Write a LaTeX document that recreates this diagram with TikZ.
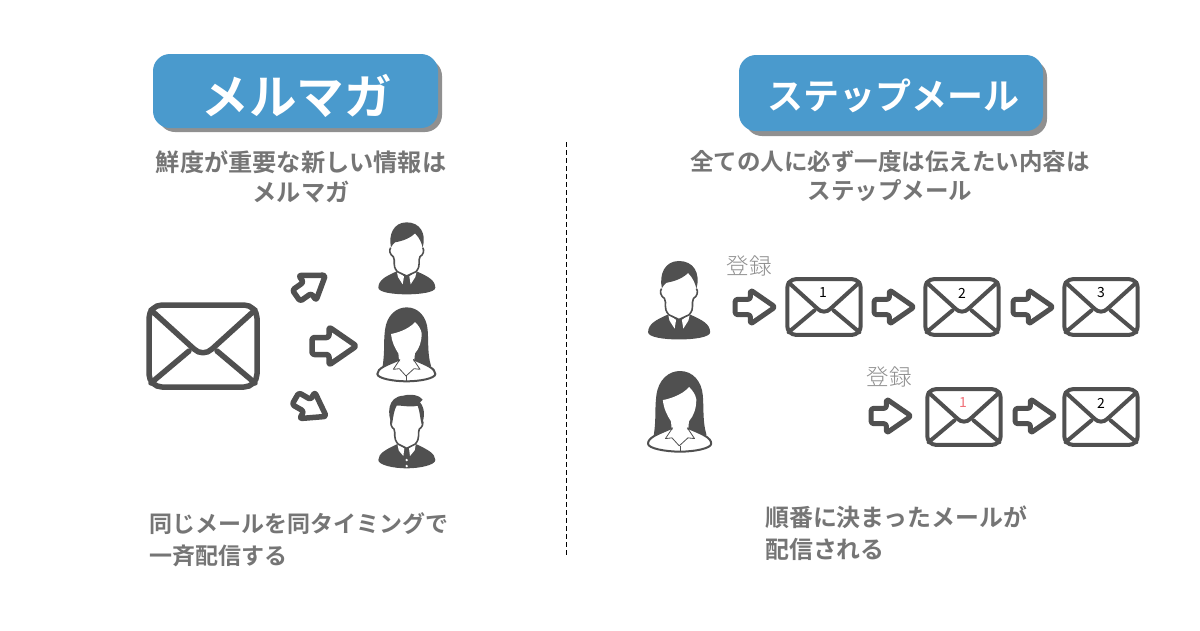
\documentclass[tikz,border=0pt]{standalone}
\usepackage{fontspec}
\newfontfamily\jp{Noto Sans CJK JP}[BoldFont={Noto Sans CJK JP Bold}]
\newfontfamily\jplight{Noto Sans CJK JP Light}
\setmainfont{Liberation Sans}
\definecolor{ic}{HTML}{505050}
\definecolor{bluebox}{HTML}{4A9ACD}
\definecolor{shade}{HTML}{909090}
\definecolor{txt}{HTML}{757575}
\definecolor{lite}{HTML}{8E8E8E}
\definecolor{redn}{HTML}{F07078}
\tikzset{
 titlebox/.style={fill=bluebox,rounded corners=17pt,draw=none},
 shadowbox/.style={fill=shade,rounded corners=17pt,draw=none},
 titletext/.style={text=white,font=\jp\bfseries,inner sep=0pt},
 bodytext/.style={text=txt,inner sep=0pt,font=\jp\bfseries\fontsize{23.5}{23.5}\selectfont},
 regtext/.style={text=lite,inner sep=0pt,font=\jplight\fontsize{22.5}{22.5}\selectfont},
 numtext/.style={inner sep=0pt,font=\jp\fontsize{14}{14}\selectfont},
 envline/.style={draw=ic,line join=round,line cap=round},
 blockarrow/.style={draw=ic,fill=white,line join=round,rounded corners=2.5pt},
 thin outline/.style={draw=ic,line width=1.6pt,fill=white,line join=round}
}
% envelope: centre, scale, width of line
\newcommand{\envelope}[4]{%
 \begin{scope}[shift={(#1,#2)},scale=#3]
  \draw[envline,line width=#4pt,rounded corners=#3*13pt] (-54,-41) rectangle (54,41);
  \draw[envline,line width=#4pt] (-52,-36) -- (-9,3) .. controls (-4,8) and (4,8) .. (9,3) -- (52,-36);
  \draw[envline,line width=#4pt] (-52,37) -- (-14,5);
  \draw[envline,line width=#4pt] (52,37) -- (14,5);
 \end{scope}}
% block arrow: centre, angle, scale, line width
\newcommand{\blockarr}[5]{%
 \begin{scope}[shift={(#1,#2)},rotate=#3,scale=#4]
  \draw[blockarrow,line width=#5pt] (-21,-8.5) -- (-4,-8.5) -- (-4,-19) -- (23.5,0) -- (-4,19) -- (-4,8.5) -- (-21,8.5) -- cycle;
 \end{scope}}
% man with parted hair
\newcommand{\manA}[3]{%
 \begin{scope}[shift={(#1,#2)},scale=#3/3]
  \fill[ic] (25,218) .. controls (26,195) and (45,185) .. (78,170) -- (142,170) .. controls (175,185) and (195,195) .. (196,218) .. controls (196,232) and (150,238) .. (110,238) .. controls (70,238) and (25,232) .. (25,218) -- cycle;
  \fill[white] (80,168) -- (102,184) -- (98,208) -- (84,186) -- cycle;
  \fill[white] (140,168) -- (118,184) -- (122,208) -- (136,186) -- cycle;
  \fill[ic] (104,183) -- (116,183) -- (113,192) -- (118,208) -- (110,214) -- (102,208) -- (107,192) -- cycle;
  \draw[thin outline] (62,98) .. controls (56,105) and (60,120) .. (70,125) .. controls (78,140) and (65,150) .. (82,170) -- (110,183) -- (138,170) .. controls (155,150) and (142,140) .. (150,125) .. controls (160,120) and (164,105) .. (158,98);
  \fill[ic] (63,97) .. controls (55,60) and (70,22) .. (110,22) .. controls (150,22) and (170,55) .. (158,98) .. controls (155,85) and (150,70) .. (135,55) .. controls (115,75) and (85,80) .. (75,82) .. controls (70,85) and (68,90) .. (63,97) -- cycle;
 \end{scope}}
% man with quiff
\newcommand{\manC}[3]{%
 \begin{scope}[shift={(#1,#2)},scale=#3/3]
  \fill[ic] (25,225) .. controls (26,205) and (45,195) .. (80,178) -- (140,178) .. controls (175,195) and (195,205) .. (196,225) .. controls (196,240) and (150,250) .. (110,250) .. controls (70,250) and (25,240) .. (25,225) -- cycle;
  \fill[white] (82,175) -- (103,190) -- (100,213) -- (86,196) -- cycle;
  \fill[white] (138,175) -- (117,190) -- (120,213) -- (134,196) -- cycle;
  \fill[ic] (104,188) -- (116,188) -- (113,197) -- (116,213) -- (104,213) -- (107,197) -- cycle;
  \fill[white] (110,225) circle (4);
  \fill[white] (110,243) circle (4);
  \draw[thin outline] (64,105) .. controls (60,115) and (64,128) .. (72,132) .. controls (78,145) and (68,158) .. (84,177) -- (110,190) -- (136,177) .. controls (152,158) and (142,145) .. (148,132) .. controls (156,128) and (162,115) .. (156,105);
  \fill[ic] (66,118) .. controls (52,90) and (50,35) .. (100,32) .. controls (125,25) and (150,32) .. (158,44) .. controls (155,48) and (152,50) .. (150,52) .. controls (165,70) and (165,95) .. (155,118) .. controls (150,100) and (150,80) .. (143,62) .. controls (120,68) and (90,60) .. (80,62) .. controls (72,75) and (70,95) .. (66,118) -- cycle;
 \end{scope}}
% woman
\newcommand{\womanB}[3]{%
 \begin{scope}[shift={(#1,#2)},scale=#3/3]
  \fill[ic] (38,198) .. controls (45,150) and (40,130) .. (45,90) .. controls (50,45) and (80,22) .. (110,22) .. controls (145,22) and (170,50) .. (173,90) .. controls (176,130) and (172,160) .. (183,198) .. controls (170,210) and (150,205) .. (130,190) -- (90,190) .. controls (70,205) and (50,210) .. (38,198) -- cycle;
  \draw[thin outline,line width=2pt] (22,222) .. controls (22,205) and (50,195) .. (85,180) -- (135,180) .. controls (170,195) and (196,205) .. (196,222) .. controls (196,235) and (150,244) .. (110,244) .. controls (70,244) and (22,235) .. (22,222) -- cycle;
  \fill[white] (63,102) .. controls (75,100) and (115,90) .. (135,66) .. controls (145,75) and (153,88) .. (155,100) .. controls (155,125) and (148,145) .. (135,160) .. controls (133,170) and (135,180) .. (130,182) -- (110,226) -- (90,182) .. controls (85,180) and (87,170) .. (85,160) .. controls (75,145) and (65,125) .. (63,102) -- cycle;
  \draw[ic,line width=.8pt,line join=round] (90,178) -- (70,208) -- (88,206) -- (108,228) -- (132,206) -- (150,208) -- (130,178);
  \draw[ic,line width=.8pt] (110,228) -- (110,243);
 \end{scope}}
\begin{document}
\begin{tikzpicture}[x=1pt,y=-1pt]
\useasboundingbox (0,0) rectangle (1200,630);
\fill[white] (0,0) rectangle (1200,630);
% title boxes
\fill[shadowbox] (158,59) rectangle (442,132);
\fill[titlebox] (153,54) rectangle (438,128);
\node[titletext,font=\jp\bfseries\fontsize{47.5}{47.5}\selectfont] (t1) at (296.5,96) {メルマガ};
\fill[shadowbox] (745,60) rectangle (1047,136);
\fill[titlebox] (739,55) rectangle (1043,131);
\node[titletext,font=\jp\bfseries\fontsize{36}{36}\selectfont] (t2) at (893,96) {ステップメール};
% body text
\node[bodytext,font=\jp\bfseries\fontsize{24.2}{24.2}\selectfont] (a1) at (301,162) {鮮度が重要な新しい情報は};
\node[bodytext,font=\jp\bfseries\fontsize{24.2}{24.2}\selectfont] (a2) at (301,192) {メルマガ};
\node[bodytext] (b1) at (890,162) {全ての人に必ず一度は伝えたい内容は};
\node[bodytext] (b2) at (890,191) {ステップメール};
\node[bodytext,font=\jp\bfseries\fontsize{23}{23}\selectfont,anchor=west] (c1) at (149,524) {同じメールを同タイミングで};
\node[bodytext,font=\jp\bfseries\fontsize{23}{23}\selectfont,anchor=west] (c2) at (149,556) {一斉配信する};
\node[bodytext,font=\jp\bfseries\fontsize{23.9}{23.9}\selectfont,anchor=west] (d1) at (765,517) {順番に決まったメールが};
\node[bodytext,font=\jp\bfseries\fontsize{23.9}{23.9}\selectfont,anchor=west] (d2) at (765,549) {配信される};
% divider
\draw[black,line width=1pt,dash pattern=on 5pt off 3pt] (566,142) -- (566,555);
% left side
\envelope{203}{346}{1}{5.5}
\blockarr{310}{286}{35}{.8}{5.5}
\blockarr{333}{346}{0}{1}{5.5}
\blockarr{310}{407}{-30}{.8}{5.5}
\manA{370}{215}{1}
\womanB{370}{300}{1}
\manC{370}{385}{1}
% right side
\manA{639}{253}{1.09}
\womanB{640}{363}{1.09}
\node[regtext] (r1) at (749,266) {登録};
\node[regtext] (r2) at (889,377) {登録};
\blockarr{754}{307}{0}{.9}{5}
\envelope{824}{307}{.68}{4}
\blockarr{893}{307}{0}{.9}{5}
\envelope{962}{307}{.68}{4}
\blockarr{1032}{307}{0}{.9}{5}
\envelope{1101}{307}{.68}{4}
\blockarr{890}{416}{0}{.9}{5}
\envelope{964}{417}{.68}{4}
\blockarr{1034}{416}{0}{.9}{5}
\envelope{1101}{417}{.68}{4}
\node[numtext] (n1) at (823,293) {1};
\node[numtext] (n2) at (962,293) {2};
\node[numtext] (n3) at (1101,293) {3};
\node[numtext,text=redn] (n4) at (963,403) {1};
\node[numtext] (n5) at (1101,403) {2};
\end{tikzpicture}
\end{document}
